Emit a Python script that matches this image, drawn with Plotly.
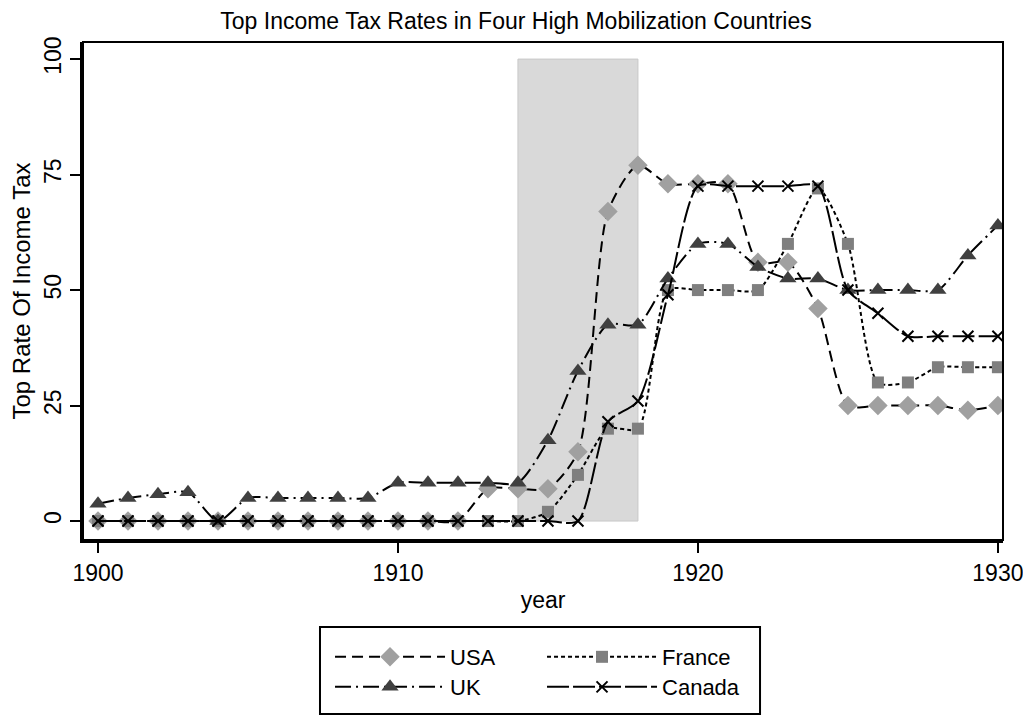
import plotly.graph_objects as go

years = list(range(1900, 1931))

usa = [0, 0, 0, 0, 0, 0, 0, 0, 0, 0, 0, 0, 0, 7, 7, 7, 15, 67, 77, 73,
       73, 73, 56, 56, 46, 25, 25, 25, 25, 24, 25]
france = [0, 0, 0, 0, 0, 0, 0, 0, 0, 0, 0, 0, 0, 0, 0, 2, 10, 20, 20, 50,
          50, 50, 50, 60, 72, 60, 30, 30, 33.3, 33.3, 33.3]
uk = [3.75, 5, 5.8, 6.25, 0, 5, 5, 5, 5, 5, 8.3, 8.3, 8.3, 8.3, 8.3, 17.5,
      32.5, 42.5, 42.5, 52.5, 60, 60, 55, 52.5, 52.5, 50, 50, 50, 50, 57.5, 64]
canada = [0, 0, 0, 0, 0, 0, 0, 0, 0, 0, 0, 0, 0, 0, 0, 0, 0, 21.5, 26, 49,
          72.5, 72.5, 72.5, 72.5, 72.5, 50, 45, 40, 40, 40, 40]

war_start, war_end = 1914, 1918
y_ticks = [0, 25, 50, 75, 100]
x_ticks = [1900, 1910, 1920, 1930]

FONT = "Liberation Sans, Arial, sans-serif"
SMOOTH = 0.7
PAGE_OFFSET = 8  # default body margin of the html page
W, H = 1031 - PAGE_OFFSET, 717 - PAGE_OFFSET

fig = go.Figure()

fig.add_shape(type="rect", xref="x", yref="y", x0=war_start, x1=war_end,
              y0=0, y1=100, fillcolor="#d9d9d9", line=dict(color="#c8c8c8", width=1),
              layer="below")

fig.add_trace(go.Scatter(
    x=years, y=usa, name="USA", mode="lines+markers", legend="legend",
    line=dict(color="black", width=2, dash="11px,6px", shape="spline", smoothing=SMOOTH),
    marker=dict(symbol="diamond", size=15, color="#a0a0a0")))
fig.add_trace(go.Scatter(
    x=years, y=france, name="France", mode="lines+markers", legend="legend",
    line=dict(color="black", width=2, dash="4px,3px", shape="spline", smoothing=SMOOTH),
    marker=dict(symbol="square", size=12, color="#7f7f7f")))
fig.add_trace(go.Scatter(
    x=years, y=uk, name="UK", mode="lines+markers", legend="legend2",
    line=dict(color="black", width=2, dash="16px,5px,2px,5px", shape="spline", smoothing=SMOOTH),
    marker=dict(symbol="triangle-up", size=15, color="#404040")))
fig.add_trace(go.Scatter(
    x=years, y=canada, name="Canada", mode="lines+markers", legend="legend2",
    line=dict(color="black", width=2, dash="22px,4px", shape="spline", smoothing=SMOOTH),
    marker=dict(symbol="x-thin", size=11, color="black", line=dict(width=2, color="black"))))

# outer frame (top/right thin lines)
fig.add_shape(type="rect", xref="paper", yref="paper", x0=0, x1=1, y0=0, y1=1,
              line=dict(color="black", width=2), layer="above")
# legend border
fig.add_shape(type="rect", xref="paper", yref="paper", x0=0.2576, x1=0.7359,
              y0=-0.3494, y1=-0.1747, line=dict(color="black", width=2))

legend_common = dict(orientation="h", xanchor="left", yanchor="top",
                     font=dict(family=FONT, size=22, color="black"),
                     itemwidth=110, entrywidth=87, bgcolor="rgba(0,0,0,0)",
                     borderwidth=0, tracegroupgap=0)

fig.update_layout(
    template="none",
    width=W, height=H,
    margin=dict(l=83 - PAGE_OFFSET, r=28, t=42 - PAGE_OFFSET, b=177, pad=0, autoexpand=False),
    paper_bgcolor="white", plot_bgcolor="white",
    font=dict(family=FONT, size=22, color="black"),
    title=dict(text="Top Income Tax Rates in Four High Mobilization Countries",
               x=(516 - PAGE_OFFSET) / W, xanchor="center", xref="container",
               y=1 - 13 / H, yanchor="middle",
               font=dict(family=FONT, size=23, color="black")),
    xaxis=dict(range=[1899.5, 1930.17], tickvals=x_ticks, ticks="outside",
               ticklen=10, tickwidth=2, tickcolor="black", showline=True,
               linewidth=3, linecolor="black", showgrid=False, zeroline=False,
               automargin=False, tickfont=dict(family=FONT, size=23),
               title=dict(text="year", standoff=8, font=dict(family=FONT, size=23))),
    yaxis=dict(range=[-4.1, 103.7], tickvals=y_ticks, ticks="outside",
               ticklen=10, tickwidth=2, tickcolor="black", showline=True,
               linewidth=3, linecolor="black", showgrid=False, zeroline=False,
               automargin=False, tickangle=-90, tickfont=dict(family=FONT, size=23),
               title=dict(text="Top Rate Of Income Tax", standoff=14,
                          font=dict(family=FONT, size=24))),
    legend=dict(x=0.2685, y=-0.1928, **legend_common),
    legend2=dict(x=0.2685, y=-0.2531, **legend_common),
)

fig.write_html("out.html")
